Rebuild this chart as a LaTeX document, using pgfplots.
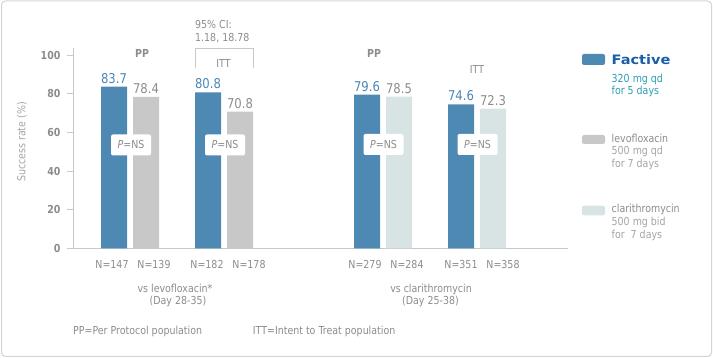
\documentclass[border=0pt]{standalone}
\usepackage{fontspec}
\setmainfont{DejaVu Sans}[FakeStretch=0.86]
\usepackage{graphicx}
\usepackage{pgfplots}
\pgfplotsset{compat=1.18}
\definecolor{fblue}{HTML}{4E89B4}
\definecolor{levo}{HTML}{C8C8C8}
\definecolor{clari}{HTML}{D8E4E4}
\definecolor{lblue}{HTML}{4A86B6}
\definecolor{lgray}{HTML}{8C8C8C}
\definecolor{axcol}{HTML}{C8C8C8}
\definecolor{txtgray}{HTML}{8C8C8C}
\definecolor{ltxt}{HTML}{A4A4A4}
\definecolor{teal}{HTML}{2A9DB5}
\definecolor{logo}{HTML}{1A5DAA}
\definecolor{border}{HTML}{D4D4D4}
\newcommand{\fs}[2]{\fontsize{#1}{#2}\selectfont}
\begin{document}
\begin{tikzpicture}
\useasboundingbox (0,0) rectangle (713pt,358pt);
\draw[border, line width=1pt, rounded corners=4pt] (1.5pt,1.5pt) rectangle (711.5pt,357pt);
\begin{axis}[
  at={(73pt,109.7pt)}, anchor=south west,
  scale only axis, width=495pt, height=200pt,
  xmin=73, xmax=568, ymin=0, ymax=103.6,
  axis lines*=left,
  axis line style={axcol, line width=1pt},
  ytick={0,20,40,60,80,100},
  tick align=outside, major tick length=6pt,
  ytick style={axcol, line width=1pt},
  xtick={112,154,207,249,365,407,461,503},
  xticklabels={N=147,N=139,N=182,N=178,N=279,N=284,N=351,N=358},
  xtick style={draw=none},
  /pgf/number format/assume math mode=true,
  yticklabel style={font=\bfseries\fs{11}{13}, text=txtgray, anchor=east, xshift=-3pt},
  xticklabel style={font=\fs{11}{13}, text=txtgray, anchor=center, yshift=-10pt},
  clip=false,
]
\addplot[ybar, bar width=26, bar shift=0pt, fill=fblue, draw=none,
  point meta=explicit symbolic, nodes near coords,
  nodes near coords style={font=\fs{13.5}{15}, text=lblue, anchor=south, inner sep=1pt, yshift=2pt}]
  coordinates {(114,83.7)[83.7] (208,80.8)[80.8] (367,79.6)[79.6] (461,74.6)[74.6]};
\addplot[ybar, bar width=26, bar shift=0pt, fill=levo, draw=none,
  point meta=explicit symbolic, nodes near coords,
  nodes near coords style={font=\fs{13.5}{15}, text=lgray, anchor=south, inner sep=1pt, yshift=2pt}]
  coordinates {(146,78.4)[78.4] (240,70.8)[70.8]};
\addplot[ybar, bar width=26, bar shift=0pt, fill=clari, draw=none,
  point meta=explicit symbolic, nodes near coords,
  nodes near coords style={font=\fs{13.5}{15}, text=lgray, anchor=south, inner sep=1pt, yshift=2pt}]
  coordinates {(399,78.5)[78.5] (493,72.3)[72.3]};
\end{axis}
\begin{scope}[x=1pt,y=-1pt,shift={(0pt,358pt)}]
  % y label
  \node[rotate=90, text=ltxt, font=\fs{11}{13}] at (22,142) {Success rate (\%)};
  % group headers
  \node[text=txtgray, font=\bfseries\fs{11}{13}] at (142,53) {PP};
  \node[text=txtgray, font=\fs{11}{13}] at (223.5,63) {ITT};
  \node[text=txtgray, font=\bfseries\fs{11}{13}] at (374,53) {PP};
  \node[text=txtgray, font=\fs{11}{13}] at (477,69) {ITT};
  % CI bracket
  \draw[axcol, line width=1pt] (195,68) -- (195,48.3) -- (253,48.3) -- (253,68);
  \node[anchor=west, inner sep=0pt, text=txtgray, font=\fs{11}{13}] at (195,25) {95\% CI:};
  \node[anchor=west, inner sep=0pt, text=txtgray, font=\fs{11}{13}] at (195,38) {1.18, 18.78};
  % P=NS boxes
  \foreach \xx/\yy in {131/145, 225/145, 383.5/144.5, 477.5/144.5}{
    \node[fill=white, draw=none, rounded corners=2pt, minimum width=40pt, minimum height=21pt, inner sep=0pt,
      text=txtgray, font=\fs{11}{13}] at (\xx,\yy) {\textit{P}=NS};
  }
  % group labels
  \node[text=txtgray, font=\fs{11}{13}] at (175,288.3) {vs levofloxacin*};
  \node[text=txtgray, font=\fs{11}{13}] at (178,301) {(Day 28-35)};
  \node[text=txtgray, font=\fs{11}{13}] at (431,289) {vs clarithromycin};
  \node[text=txtgray, font=\fs{11}{13}] at (430.5,301.7) {(Day 25-38)};
  % footnotes
  \node[anchor=west, inner sep=0pt, text=txtgray, font=\fs{11}{13}] at (73,331.7) {PP=Per Protocol population};
  \node[anchor=west, inner sep=0pt, text=txtgray, font=\fs{11}{13}] at (252.7,331.7) {ITT=Intent to Treat population};
  % legend
  \fill[fblue, rounded corners=2pt] (582,54) rectangle (605,65);
  \node[anchor=west, inner sep=0pt, text=logo, font=\bfseries\fs{13}{15}] at (611.5,60) {\scalebox{1.3}[1]{Factive}};
  \node[anchor=west, inner sep=0pt, text=teal, font=\fs{11}{13}] at (611.5,79.3) {320 mg qd};
  \node[anchor=west, inner sep=0pt, text=teal, font=\fs{11}{13}] at (611.5,91.7) {for 5 days};
  \fill[levo, rounded corners=2pt] (582,135) rectangle (605,144);
  \node[anchor=west, inner sep=0pt, text=txtgray, font=\fs{11}{13}] at (611.5,138.7) {levofloxacin};
  \node[anchor=west, inner sep=0pt, text=ltxt, font=\fs{11}{13}] at (611.5,151.3) {500 mg qd};
  \node[anchor=west, inner sep=0pt, text=ltxt, font=\fs{11}{13}] at (611.5,164.3) {for 7 days};
  \fill[clari, rounded corners=2pt] (582,205.7) rectangle (605,215.3);
  \node[anchor=west, inner sep=0pt, text=txtgray, font=\fs{11}{13}] at (611.5,209.3) {clarithromycin};
  \node[anchor=west, inner sep=0pt, text=ltxt, font=\fs{11}{13}] at (611.5,222.7) {500 mg bid};
  \node[anchor=west, inner sep=0pt, text=ltxt, font=\fs{11}{13}] at (611.5,235) {for\ \ 7 days};
\end{scope}
\end{tikzpicture}
\end{document}
